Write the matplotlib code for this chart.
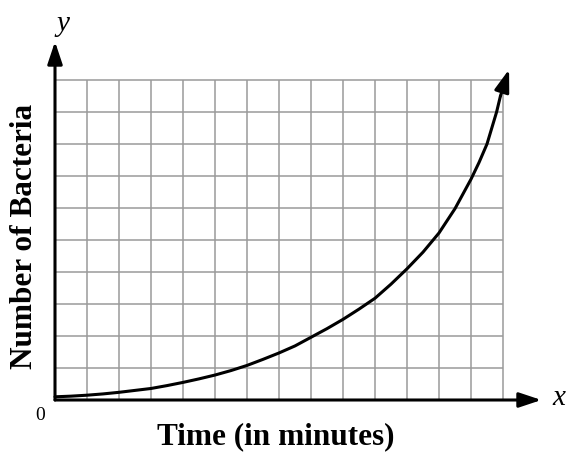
import matplotlib.pyplot as plt

# grid size (in squares)
n_cols = 14
n_rows = 10

# curve (grid units)
curve_x = [0, 0.5, 1, 1.5, 2, 2.5, 3, 3.5, 4, 4.5, 5, 5.5, 6, 6.5, 7, 7.5, 8, 8.5,
           9, 9.5, 10, 10.5, 11, 11.5, 12, 12.5, 13, 13.25, 13.5, 13.65, 13.8, 13.92]
curve_y = [0.1, 0.12, 0.15, 0.19, 0.24, 0.3, 0.36, 0.45, 0.55, 0.66, 0.78, 0.92, 1.08,
           1.27, 1.47, 1.69, 1.96, 2.23, 2.52, 2.84, 3.18, 3.62, 4.1, 4.62, 5.22, 5.98,
           6.9, 7.42, 8.0, 8.5, 9.0, 9.5]
curve_tip = (14.19, 10.33)

x_label = "Time (in minutes)"
y_label = "Number of Bacteria"

fig = plt.figure(figsize=(5.7, 4.53), dpi=100)
ax = fig.add_axes([0, 0, 1, 1])
ax.set_xlim(-55 / 32, (570 - 55) / 32)
ax.set_ylim((400 - 453) / 32, 400 / 32)
ax.axis("off")

# grid
grid_color = "#9a9a9a"
ax.vlines(range(1, n_cols + 1), 0, n_rows, color=grid_color, lw=1.1, zorder=1)
ax.hlines(range(1, n_rows + 1), 0, n_cols, color=grid_color, lw=1.1, zorder=1)

# axes with arrows
head = "-|>,head_length=1.35,head_width=0.45"
arrow = dict(arrowstyle=head, color="black", lw=2.2, shrinkA=0, shrinkB=0)
ax.annotate("", xy=(15.2, 0), xytext=(0, 0), arrowprops=arrow, zorder=3)
ax.annotate("", xy=(0, 11.2), xytext=(0, 0), arrowprops=arrow, zorder=3)

# curve
ax.plot(curve_x, curve_y, color="black", lw=2.2, solid_capstyle="round",
        solid_joinstyle="round", zorder=4)
ax.annotate("", xy=curve_tip, xytext=(curve_x[-1], curve_y[-1]),
            arrowprops=dict(arrowstyle=head, color="black", lw=2.2,
                            shrinkA=0, shrinkB=0), zorder=4)

serif = "Liberation Serif"
ax.text(0.25, 11.75, "y", fontsize=21, style="italic", family=serif, ha="center", va="center")
ax.text(15.75, 0.05, "x", fontsize=21, style="italic", family=serif, ha="center", va="center")
ax.text(-0.45, -0.5, "0", fontsize=14, family=serif, ha="center", va="center")
ax.text(6.9, -1.15, x_label, fontsize=22.5, weight="bold", family=serif, ha="center", va="center")
ax.text(-0.95, 5.1, y_label, fontsize=22.5, weight="bold", family=serif, ha="center", va="center",
        rotation=90)

fig.savefig("out.png", dpi=100)
